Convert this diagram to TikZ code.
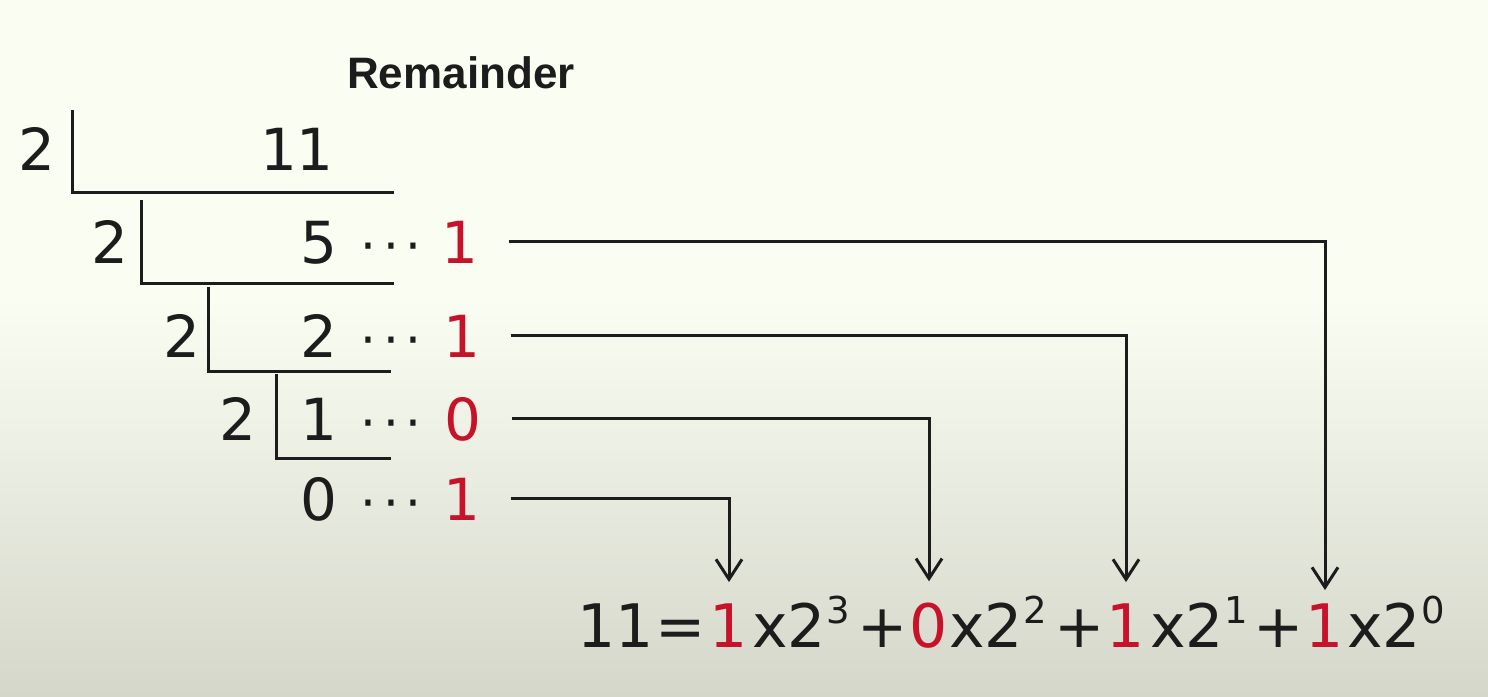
\documentclass[tikz,border=0pt]{standalone}
\usepackage{fontspec}
\setmainfont{DejaVu Sans}
\newfontfamily\remfont{Liberation Sans}
\usetikzlibrary{arrows.meta}
\definecolor{bgtop}{RGB}{250,253,241}
\definecolor{bgbot}{RGB}{213,215,203}
\definecolor{ink}{RGB}{28,28,28}
\definecolor{remred}{RGB}{200,18,42}
\begin{document}
\begin{tikzpicture}[x=1pt,y=-1pt,
  num/.style={inner sep=0pt, anchor=base, text=ink, font=\fontsize{58}{60}\selectfont},
  rem/.style={num, text=remred},
  dotsn/.style={inner sep=0pt, anchor=base, text=ink, font=\fontsize{50}{52}\selectfont},
  eqtxt/.style={inner sep=0pt, anchor=base, text=ink, font=\fontsize{60}{62}\selectfont},
  eqsup/.style={inner sep=0pt, anchor=base west, text=ink, font=\fontsize{37}{39}\selectfont},
  eqred/.style={eqtxt, text=remred},
  bracket/.style={draw=ink, line width=3pt},
  conn/.style={draw=ink, line width=3pt, shorten <=30pt,
    -{Straight Barb[length=20pt,width=26pt,line width=3pt]}},
]
\newcommand{\threedots}{·\kern7pt·\kern7pt·}
% background
\useasboundingbox (0,0) rectangle (1488,696);
\fill[bgtop] (0,0) rectangle (1488,300);
\shade[top color=bgtop, bottom color=bgbot] (0,299) rectangle (1488,696);

% header
\node[inner sep=0pt, anchor=base west, text=ink, font=\remfont\bfseries\fontsize{44}{46}\selectfont] (hdr) at (347,88) {Remainder};

% division ladder
\node[num] (dv1) at (37,170) {2};
\node[num] (n11) at (297,170) {11};
\draw[bracket] (72,110) |- (394,192);

\node[num] (dv2) at (110,263) {2};
\node[num] (q5) at (319,263) {5};
\node[dotsn] (dt2) at (391,263) {\threedots};
\node[rem] (r2) at (460,263) {1};
\draw[bracket] (141,200) |- (394,283);

\node[num] (dv3) at (182,357) {2};
\node[num] (q2) at (319,357) {2};
\node[dotsn] (dt3) at (391,357) {\threedots};
\node[rem] (r3) at (462,357) {1};
\draw[bracket] (208,287) |- (391,371);

\node[num] (dv4) at (238,440) {2};
\node[num] (q1) at (319,440) {1};
\node[dotsn] (dt4) at (391,440) {\threedots};
\node[rem] (r4) at (463,440) {0};
\draw[bracket] (276,374) |- (391,458);

\node[num] (q0) at (319,520) {0};
\node[dotsn] (dt5) at (391,520) {\threedots};
\node[rem] (r5) at (462,520) {1};

% equation
\node[eqtxt] (e11) at (616,647) {11};
\node[eqtxt] (eqs) at (681,647) {=};
\node[eqred] (b3) at (729,647) {1};
\node[eqtxt] (x3) at (789,647) {x2};
\node[eqsup] (s3) at ([xshift=0pt,yshift=24pt]x3.base east) {3};
\node[eqtxt] (p1) at (883,647) {+};
\node[eqred] (b2) at (929,647) {0};
\node[eqtxt] (x2) at (986,647) {x2};
\node[eqsup] (s2) at ([xshift=0pt,yshift=24pt]x2.base east) {2};
\node[eqtxt] (p2) at (1080,647) {+};
\node[eqred] (b1) at (1126,647) {1};
\node[eqtxt] (x1) at (1187,647) {x2};
\node[eqsup] (s1) at ([xshift=0pt,yshift=24pt]x1.base east) {1};
\node[eqtxt] (p3) at (1279,647) {+};
\node[eqred] (b0) at (1325,647) {1};
\node[eqtxt] (x0) at (1384,647) {x2};
\node[eqsup] (s0) at ([xshift=0pt,yshift=24pt]x0.base east) {0};

% connectors
\draw[conn, shorten >=13pt] (r2.east) -| (b0.north);
\draw[conn, shorten >=21pt] (r3.east) -| (b1.north);
\draw[conn, shorten >=21pt] (r4.east) -| (b2.north);
\draw[conn, shorten >=21pt] (r5.east) -| (b3.north);
\end{tikzpicture}
\end{document}
